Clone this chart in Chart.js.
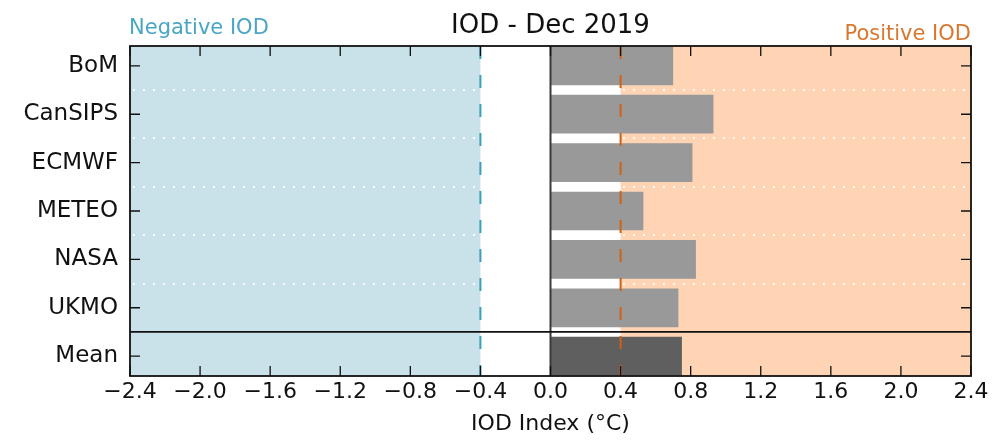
<!DOCTYPE html>
<html>
<head>
<meta charset="utf-8">
<title>IOD - Dec 2019</title>
<script src="https://cdn.jsdelivr.net/npm/chart.js@4.4.0/dist/chart.umd.min.js"></script>
<style>
html, body { margin: 0; padding: 0; background: #fff; }
#wrap { width: 998px; height: 440px; position: relative; }
</style>
</head>
<body>
<div id="wrap"><canvas id="chart-iod"></canvas></div>
<script>
// Datos del gráfico
const models = ['BoM', 'CanSIPS', 'ECMWF', 'METEO', 'NASA', 'UKMO'];
const modelValues = [0.70, 0.93, 0.81, 0.53, 0.83, 0.73];
const meanLabel = 'Mean';
const meanValue = 0.75;
const xTicks = [-2.4, -2.0, -1.6, -1.2, -0.8, -0.4, 0.0, 0.4, 0.8, 1.2, 1.6, 2.0, 2.4];
const thresholds = [-0.4, 0.4];

const labels = models.concat([meanLabel]);
const values = modelValues.concat([meanValue]);

const BLUE_FILL = '#c9e1e8';
const PEACH_FILL = '#fed4b4';
const BLUE_LINE = '#3d9dbd';
const ORANGE_LINE = '#cf6213';

Chart.defaults.font.family = '"DejaVu Sans", sans-serif';
Chart.defaults.color = '#111';

function fmtTick(v) {
    const n = Math.abs(v) < 1e-9 ? 0 : v;
    return n.toFixed(1).replace('-', '\u2212');
}

// Fondo sombreado y líneas punteadas (debajo de las barras)
const backgroundPlugin = {
    id: 'iodBackground',
    beforeDatasetsDraw(chart) {
        const { ctx, chartArea: a, scales: { x, y } } = chart;
        ctx.save();
        ctx.beginPath();
        ctx.rect(a.left, a.top, a.right - a.left, a.bottom - a.top);
        ctx.clip();

        ctx.fillStyle = BLUE_FILL;
        ctx.fillRect(x.getPixelForValue(xTicks[0]), a.top,
            x.getPixelForValue(thresholds[0]) - x.getPixelForValue(xTicks[0]), a.bottom - a.top);
        ctx.fillStyle = PEACH_FILL;
        ctx.fillRect(x.getPixelForValue(thresholds[1]), a.top,
            x.getPixelForValue(xTicks[xTicks.length - 1]) - x.getPixelForValue(thresholds[1]), a.bottom - a.top);

        // separadores entre modelos
        ctx.strokeStyle = '#ffffff';
        ctx.lineWidth = 1.8;
        ctx.setLineDash([1.8, 8.2]);
        for (let i = 0; i < models.length - 1; i++) {
            const py = Math.round(y.getPixelForValue(i + 0.5));
            ctx.beginPath();
            ctx.moveTo(a.left + 3, py);
            ctx.lineTo(a.right, py);
            ctx.stroke();
        }
        ctx.restore();
    },
    afterDatasetsDraw(chart) {
        const { ctx, chartArea: a, scales: { x, y } } = chart;
        ctx.save();

        // línea cero
        const x0 = x.getPixelForValue(0);
        ctx.strokeStyle = '#3a3a3a';
        ctx.lineWidth = 2;
        ctx.beginPath();
        ctx.moveTo(x0, a.top);
        ctx.lineTo(x0, a.bottom);
        ctx.stroke();

        // umbrales +-0.4
        ctx.lineWidth = 2;
        ctx.setLineDash([13, 16]);
        thresholds.forEach((t, i) => {
            const px = x.getPixelForValue(t);
            ctx.strokeStyle = i === 0 ? BLUE_LINE : ORANGE_LINE;
            ctx.beginPath();
            ctx.moveTo(px, a.top);
            ctx.lineTo(px, a.bottom);
            ctx.stroke();
        });
        ctx.setLineDash([]);

        // línea sobre la media
        const ym = y.getPixelForValue(models.length - 0.5);
        ctx.strokeStyle = '#111';
        ctx.lineWidth = 1.8;
        ctx.beginPath();
        ctx.moveTo(a.left, ym);
        ctx.lineTo(a.right, ym);
        ctx.stroke();

        // marcas hacia dentro
        const tl = 10;
        ctx.lineWidth = 1.3;
        ctx.strokeStyle = '#111';
        x.ticks.forEach(t => {
            const px = x.getPixelForValue(t.value);
            ctx.beginPath();
            ctx.moveTo(px, a.bottom); ctx.lineTo(px, a.bottom - tl);
            ctx.moveTo(px, a.top); ctx.lineTo(px, a.top + tl);
            ctx.stroke();
        });
        y.ticks.forEach(t => {
            const py = y.getPixelForValue(t.value);
            ctx.beginPath();
            ctx.moveTo(a.left, py); ctx.lineTo(a.left + tl, py);
            ctx.moveTo(a.right, py); ctx.lineTo(a.right - tl, py);
            ctx.stroke();
        });

        // marco
        ctx.lineWidth = 1.8;
        ctx.strokeRect(a.left, a.top, a.right - a.left, a.bottom - a.top);
        ctx.restore();
    },
    afterDraw(chart) {
        const { ctx, chartArea: a } = chart;
        ctx.save();
        ctx.textBaseline = 'alphabetic';
        ctx.fillStyle = '#111';
        ctx.font = '26px "DejaVu Sans"';
        ctx.textAlign = 'center';
        ctx.fillText('IOD - Dec 2019', (a.left + a.right) / 2, 33);

        ctx.font = '21px "DejaVu Sans"';
        ctx.textAlign = 'left';
        ctx.fillStyle = '#4aa6c2';
        ctx.fillText('Negative IOD', a.left - 1, 34);
        ctx.textAlign = 'right';
        ctx.fillStyle = '#d9772f';
        ctx.fillText('Positive IOD', a.right, 40);
        ctx.restore();
    }
};

window.onload = () => {
    const ctx = document.getElementById('chart-iod').getContext('2d');
    new Chart(ctx, {
        type: 'bar',
        data: {
            datasets: [{
                data: labels.map((l, i) => ({ x: values[i], y: i })),
                backgroundColor: labels.map((l, i) => i < models.length ? '#999999' : '#5f5f5f'),
                borderWidth: 0,
                barPercentage: 0.8,
                categoryPercentage: 1.0
            }]
        },
        options: {
            indexAxis: 'y',
            responsive: true,
            maintainAspectRatio: false,
            animation: false,
            layout: { padding: { top: 46, right: 27, bottom: 0, left: 0 } },
            plugins: {
                legend: { display: false },
                tooltip: { enabled: false }
            },
            scales: {
                x: {
                    type: 'linear',
                    min: xTicks[0],
                    max: xTicks[xTicks.length - 1],
                    afterBuildTicks: scale => { scale.ticks = xTicks.map(v => ({ value: v })); },
                    afterFit: scale => { scale.height = 64; },
                    grid: { display: false, drawTicks: false },
                    border: { display: false },
                    ticks: {
                        font: { size: 22 },
                        color: '#111',
                        padding: 3,
                        maxRotation: 0,
                        autoSkip: false,
                        callback: v => fmtTick(v)
                    },
                    title: {
                        display: true,
                        text: 'IOD Index (°C)',
                        font: { size: 22 },
                        color: '#111',
                        padding: { top: 0, bottom: 3 }
                    }
                },
                y: {
                    type: 'linear',
                    reverse: true,
                    offset: false,
                    min: -0.41,
                    max: labels.length - 1 + 0.41,
                    afterBuildTicks: scale => { scale.ticks = labels.map((l, i) => ({ value: i })); },
                    afterFit: scale => { scale.width = 130; },
                    grid: { display: false, drawTicks: false },
                    border: { display: false },
                    ticks: {
                        font: { size: 23 },
                        color: '#111',
                        padding: 12,
                        autoSkip: false,
                        callback: v => labels[v]
                    }
                }
            }
        },
        plugins: [backgroundPlugin]
    });
};
</script>
</body>
</html>
